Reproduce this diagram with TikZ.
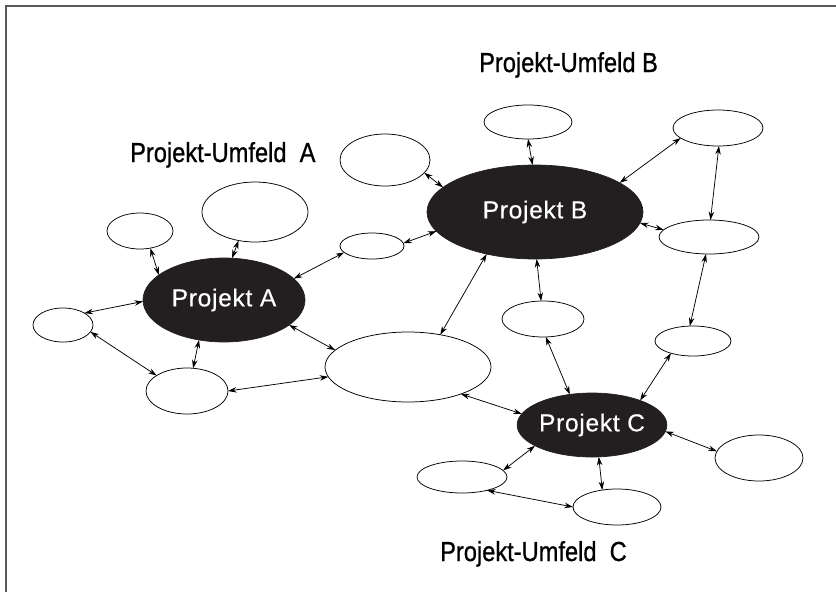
\documentclass[tikz,border=0pt]{standalone}
\usepackage{fontspec}
\setmainfont{Liberation Sans}
\newfontfamily\lblfont[FakeBold=0.9]{Liberation Sans}
\newfontfamily\projfont[FakeBold=0.4,LetterSpace=3]{Liberation Sans}
\usetikzlibrary{shapes.geometric,arrows.meta}
\definecolor{projfill}{RGB}{35,31,32}
\begin{document}
\begin{tikzpicture}[x=1pt,y=-1pt,
  env/.style={ellipse,draw=black,line width=0.75pt,fill=white,inner sep=0pt,outer sep=0pt},
  proj/.style={ellipse,fill=projfill,draw=projfill,line width=0.7pt,inner sep=0pt,outer sep=0pt,
    text=white,font=\projfont\fontsize{24.5}{28}\selectfont},
  lbl/.style={anchor=base west,inner sep=0pt,xscale=0.86,font=\lblfont\fontsize{27.5}{30}\selectfont},
  link/.style={{Stealth[length=8.5pt,width=5.5pt]}-{Stealth[length=8.5pt,width=5.5pt]},line width=0.75pt}]
\useasboundingbox (0,0) rectangle (836,592);
\fill[white] (0,0) rectangle (836,592);
\draw[line width=2pt,black!65] (6,592) -- (6,5.5) -- (836,5.5);

% project nodes
\node[proj,minimum width=162pt,minimum height=84pt] (A) at (224,300) {Projekt A};
\node[proj,minimum width=216pt,minimum height=94pt] (B) at (535,212) {Projekt B};
\node[proj,minimum width=144pt,minimum height=64pt] (C) at (592,425) {Projekt C};

% environment nodes
\node[env,minimum width=66pt,minimum height=36pt] (e1) at (140,231) {};
\node[env,minimum width=106pt,minimum height=60pt] (e2) at (255,212) {};
\node[env,minimum width=60pt,minimum height=34pt] (e3) at (63,325) {};
\node[env,minimum width=82pt,minimum height=46pt] (e4) at (187,391) {};
\node[env,minimum width=166pt,minimum height=70pt] (e5) at (408,367) {};
\node[env,minimum width=64pt,minimum height=26pt] (e6) at (372,246) {};
\node[env,minimum width=90pt,minimum height=52pt] (e7) at (385,160) {};
\node[env,minimum width=88pt,minimum height=34pt] (e8) at (528,122) {};
\node[env,minimum width=90pt,minimum height=36pt] (e9) at (718,128) {};
\node[env,minimum width=100pt,minimum height=34pt] (e10) at (709,237) {};
\node[env,minimum width=82pt,minimum height=36pt] (e11) at (543,319) {};
\node[env,minimum width=76pt,minimum height=30pt] (e12) at (693,341) {};
\node[env,minimum width=88pt,minimum height=46pt] (e13) at (759,458) {};
\node[env,minimum width=90pt,minimum height=32pt] (e14) at (462,477) {};
\node[env,minimum width=88pt,minimum height=36pt] (e15) at (617,507) {};

% labels
\node[lbl] (la) at (130,162) {Projekt-Umfeld\ \ A};
\node[lbl] (lb) at (479,72) {Projekt-Umfeld B};
\node[lbl] (lc) at (440,561) {Projekt-Umfeld\ \ C};

% connectors
\draw[link] (e1.-59) -- (A.159);
\draw[link] (e2.-120) -- (A.79);
\draw[link] (e3.29) -- (A.181);
\draw[link] (e3.-14) -- (e4.153);
\draw[link] (A.-122) -- (e4.75);
\draw[link] (e4.0) -- (e5.187);
\draw[link] (A.-21) -- (e5.167);
\draw[link] (A.17) -- (e6.193);
\draw[link] (e6.5) -- (B.191);
\draw[link] (e7.-18) -- (B.165);
\draw[link] (e8.-90) -- (B.93);
\draw[link] (B.19) -- (e9.195);
\draw[link] (e9.-87) -- (e10.85);
\draw[link] (B.-6) -- (e10.171);
\draw[link] (B.-139) -- (e5.45);
\draw[link] (B.-88) -- (e11.96);
\draw[link] (e10.-100) -- (e12.102);
\draw[link] (e11.-81) -- (C.126);
\draw[link] (e12.-151) -- (C.27);
\draw[link] (e5.-27) -- (C.171);
\draw[link] (C.-5) -- (e13.171);
\draw[link] (C.200) -- (e14.9);
\draw[link] (C.-78) -- (e15.131);
\draw[link] (e14.-28) -- (e15.180);
\end{tikzpicture}
\end{document}
